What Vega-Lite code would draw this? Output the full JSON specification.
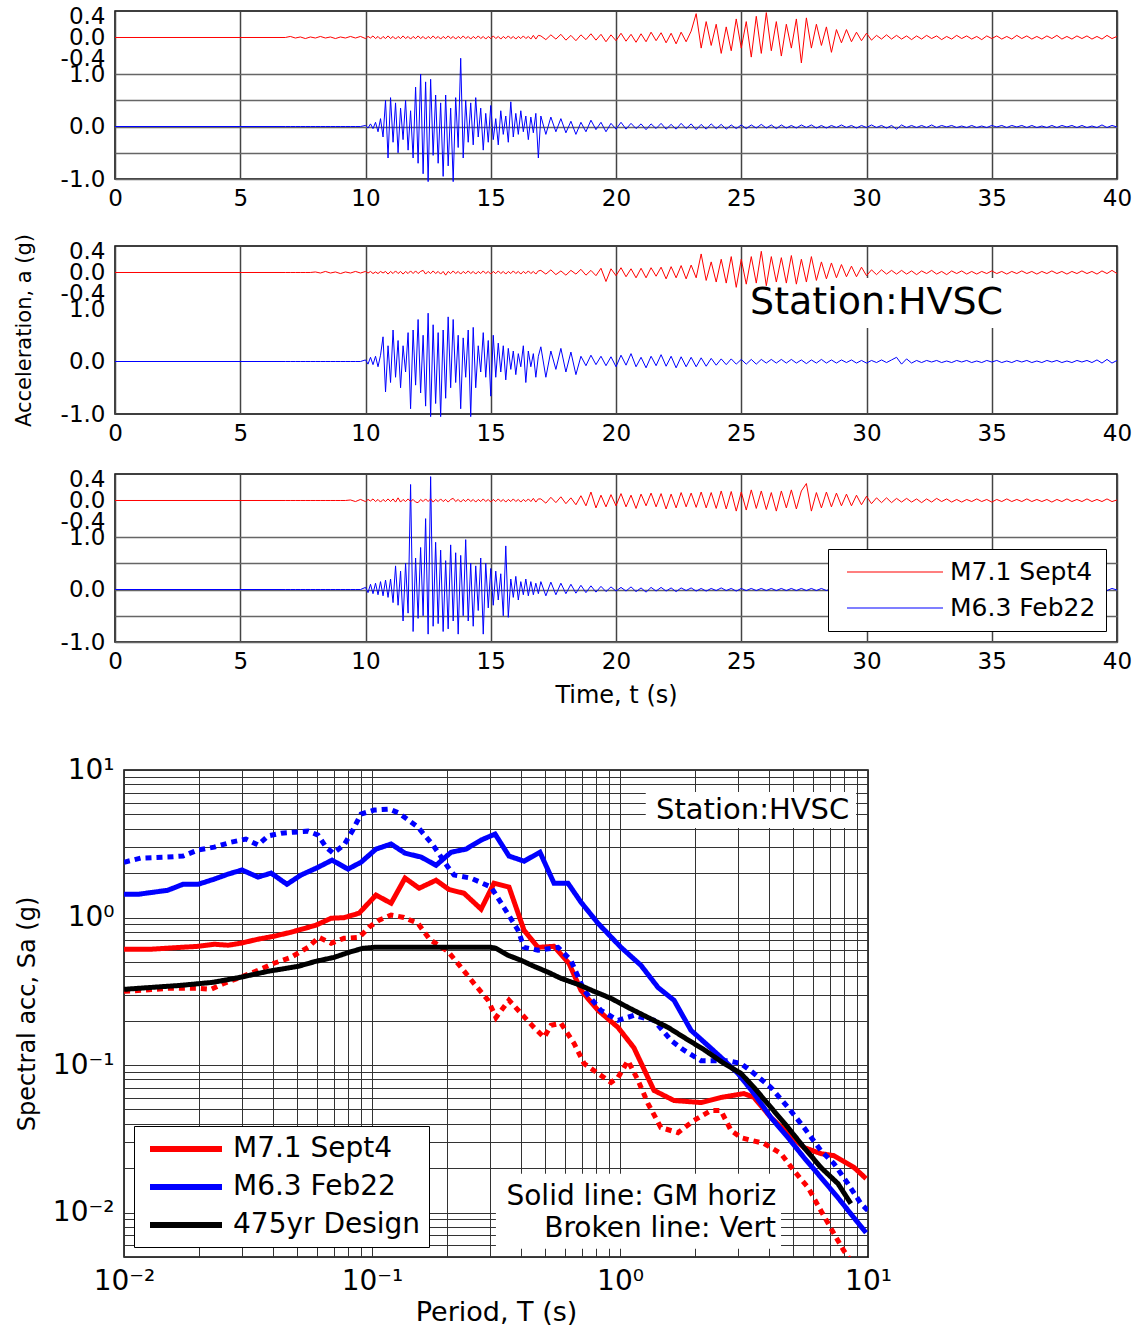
{
"$schema": "https://vega.github.io/schema/vega-lite/v6.json",
"background": "white",
"padding": {"left": 12, "top": 4, "right": 5, "bottom": 5},
"config": {
  "font": "DejaVu Sans",
  "view": {"stroke": "#000", "strokeWidth": 1.5},
  "axis": {"labelColor": "#000", "titleColor": "#000", "titleFontWeight": "normal", "ticks": false, "domain": false, "gridColor": "#333", "gridOpacity": 1, "gridWidth": 1, "labelOverlap": false, "labelBound": false, "labelFlush": false}
},
"spacing": 21,
"resolve": {"scale": {"color": "independent", "strokeDash": "independent"}, "legend": {"color": "independent"}},
"datasets": {
"acc": [
{"t":0,"r1":0,"b1":0,"r2":0,"b2":0,"r3":0,"b3":0},
{"t":6.8,"r1":0,"b1":0,"r2":0,"b2":0,"r3":0,"b3":0},
{"t":7.0,"r1":0.02,"b1":0,"r2":0,"b2":0,"r3":0,"b3":0},
{"t":7.2,"r1":-0.01,"b1":0,"r2":0,"b2":0,"r3":0,"b3":0},
{"t":7.4,"r1":0.01,"b1":0,"r2":0,"b2":0,"r3":0,"b3":0},
{"t":7.6,"r1":-0.02,"b1":0,"r2":0,"b2":0,"r3":0,"b3":0},
{"t":7.8,"r1":0.01,"b1":0,"r2":0,"b2":0,"r3":0,"b3":0},
{"t":8.0,"r1":-0.01,"b1":0,"r2":0.01,"b2":0,"r3":0,"b3":0},
{"t":8.2,"r1":0.02,"b1":0,"r2":-0.01,"b2":0,"r3":0,"b3":0},
{"t":8.4,"r1":-0.01,"b1":0,"r2":0.02,"b2":0,"r3":0,"b3":0},
{"t":8.6,"r1":0.01,"b1":0,"r2":-0.01,"b2":0,"r3":0,"b3":0},
{"t":8.8,"r1":-0.02,"b1":0,"r2":0.01,"b2":0,"r3":0,"b3":0},
{"t":9.0,"r1":0.01,"b1":0,"r2":-0.02,"b2":0,"r3":0,"b3":0},
{"t":9.2,"r1":-0.01,"b1":0,"r2":0.01,"b2":0,"r3":0,"b3":0},
{"t":9.4,"r1":0.02,"b1":0,"r2":-0.01,"b2":0,"r3":0.01,"b3":0},
{"t":9.6,"r1":-0.01,"b1":0,"r2":0.02,"b2":0,"r3":-0.02,"b3":0},
{"t":9.8,"r1":0.02,"b1":0,"r2":-0.01,"b2":0,"r3":0.02,"b3":0},
{"t":10.0,"r1":-0.02,"b1":0.02,"r2":0.02,"b2":0.03,"r3":-0.02,"b3":0.04},
{"t":10.1,"r1":0.02,"b1":-0.03,"r2":-0.01,"b2":-0.05,"r3":0.02,"b3":-0.06},
{"t":10.2,"r1":-0.01,"b1":0.05,"r2":0.02,"b2":0.08,"r3":-0.01,"b3":0.1},
{"t":10.3,"r1":0.03,"b1":-0.04,"r2":-0.02,"b2":-0.06,"r3":0.03,"b3":-0.08},
{"t":10.4,"r1":-0.02,"b1":0.08,"r2":0.01,"b2":0.1,"r3":-0.02,"b3":0.12},
{"t":10.5,"r1":0.02,"b1":-0.1,"r2":-0.02,"b2":-0.1,"r3":0.02,"b3":-0.1},
{"t":10.6,"r1":-0.03,"b1":0.15,"r2":0.02,"b2":0.12,"r3":-0.03,"b3":0.15},
{"t":10.7,"r1":0.02,"b1":-0.2,"r2":-0.01,"b2":0.47,"r3":0.02,"b3":-0.12},
{"t":10.8,"r1":-0.02,"b1":0.5,"r2":0.02,"b2":-0.58,"r3":-0.02,"b3":0.18},
{"t":10.9,"r1":0.03,"b1":-0.6,"r2":-0.03,"b2":0.3,"r3":0.03,"b3":-0.15},
{"t":11.0,"r1":-0.02,"b1":0.55,"r2":0.02,"b2":-0.4,"r3":-0.02,"b3":0.2},
{"t":11.1,"r1":0.02,"b1":-0.3,"r2":-0.02,"b2":0.6,"r3":0.03,"b3":-0.25},
{"t":11.2,"r1":-0.03,"b1":0.45,"r2":0.03,"b2":-0.3,"r3":-0.03,"b3":0.45},
{"t":11.3,"r1":0.02,"b1":-0.5,"r2":-0.02,"b2":0.4,"r3":0.05,"b3":-0.3},
{"t":11.4,"r1":-0.02,"b1":0.35,"r2":0.02,"b2":-0.5,"r3":-0.03,"b3":0.35},
{"t":11.5,"r1":0.03,"b1":-0.25,"r2":-0.03,"b2":0.3,"r3":0.02,"b3":-0.6},
{"t":11.6,"r1":-0.02,"b1":0.5,"r2":0.02,"b2":-0.2,"r3":-0.02,"b3":0.5},
{"t":11.7,"r1":0.02,"b1":-0.45,"r2":-0.02,"b2":0.55,"r3":0.03,"b3":-0.45},
{"t":11.8,"r1":-0.03,"b1":0.3,"r2":0.03,"b2":-0.9,"r3":-0.02,"b3":2.0},
{"t":11.9,"r1":0.02,"b1":-0.6,"r2":-0.02,"b2":0.6,"r3":0.02,"b3":-0.8},
{"t":12.0,"r1":-0.02,"b1":0.75,"r2":0.03,"b2":-0.45,"r3":-0.03,"b3":0.6},
{"t":12.1,"r1":0.03,"b1":-0.7,"r2":-0.02,"b2":0.8,"r3":-0.04,"b3":-0.55},
{"t":12.2,"r1":-0.02,"b1":1.0,"r2":0.02,"b2":-0.6,"r3":0.02,"b3":0.8},
{"t":12.3,"r1":0.02,"b1":-0.9,"r2":0.04,"b2":0.5,"r3":-0.02,"b3":-0.5},
{"t":12.4,"r1":-0.03,"b1":0.85,"r2":-0.03,"b2":-0.85,"r3":0.03,"b3":1.35},
{"t":12.5,"r1":0.02,"b1":-1.05,"r2":0.02,"b2":0.92,"r3":-0.02,"b3":-0.85},
{"t":12.6,"r1":-0.02,"b1":0.9,"r2":-0.02,"b2":-1.05,"r3":0.03,"b3":2.15},
{"t":12.7,"r1":0.03,"b1":-0.55,"r2":0.03,"b2":0.7,"r3":-0.03,"b3":-0.7},
{"t":12.8,"r1":-0.02,"b1":0.6,"r2":-0.02,"b2":-0.8,"r3":0.02,"b3":0.9},
{"t":12.9,"r1":0.02,"b1":-0.7,"r2":0.02,"b2":0.55,"r3":-0.02,"b3":-0.65},
{"t":13.0,"r1":-0.03,"b1":0.45,"r2":-0.03,"b2":-1.05,"r3":0.03,"b3":0.75},
{"t":13.1,"r1":0.02,"b1":-0.95,"r2":0.02,"b2":0.6,"r3":-0.02,"b3":-0.8},
{"t":13.2,"r1":-0.02,"b1":0.6,"r2":-0.05,"b2":-0.7,"r3":0.02,"b3":0.55},
{"t":13.3,"r1":0.03,"b1":-0.75,"r2":0.02,"b2":0.85,"r3":-0.03,"b3":-0.75},
{"t":13.4,"r1":-0.02,"b1":0.35,"r2":-0.02,"b2":-0.5,"r3":0.02,"b3":0.85},
{"t":13.5,"r1":0.02,"b1":-1.05,"r2":0.03,"b2":0.8,"r3":0.04,"b3":-0.6},
{"t":13.6,"r1":-0.03,"b1":0.55,"r2":-0.02,"b2":-0.4,"r3":-0.02,"b3":0.7},
{"t":13.7,"r1":0.02,"b1":-0.4,"r2":0.02,"b2":0.5,"r3":0.02,"b3":-0.85},
{"t":13.8,"r1":-0.02,"b1":1.3,"r2":-0.03,"b2":-0.9,"r3":-0.03,"b3":0.65},
{"t":13.9,"r1":0.03,"b1":-0.6,"r2":0.02,"b2":0.45,"r3":0.02,"b3":-0.5},
{"t":14.0,"r1":-0.02,"b1":0.5,"r2":-0.02,"b2":-0.3,"r3":-0.02,"b3":0.95},
{"t":14.1,"r1":0.02,"b1":-0.3,"r2":0.03,"b2":0.6,"r3":0.03,"b3":-0.6},
{"t":14.2,"r1":-0.03,"b1":0.45,"r2":-0.02,"b2":-1.05,"r3":-0.02,"b3":0.5},
{"t":14.3,"r1":0.02,"b1":-0.35,"r2":0.02,"b2":0.65,"r3":0.02,"b3":-0.7},
{"t":14.4,"r1":-0.02,"b1":0.55,"r2":-0.03,"b2":-0.5,"r3":-0.03,"b3":0.45},
{"t":14.5,"r1":0.03,"b1":-0.2,"r2":0.02,"b2":0.3,"r3":0.02,"b3":-0.4},
{"t":14.6,"r1":-0.02,"b1":0.35,"r2":-0.02,"b2":-0.2,"r3":-0.02,"b3":0.6},
{"t":14.7,"r1":0.02,"b1":-0.45,"r2":0.03,"b2":0.55,"r3":0.03,"b3":-0.85},
{"t":14.8,"r1":-0.03,"b1":0.25,"r2":-0.02,"b2":-0.3,"r3":-0.02,"b3":0.5},
{"t":14.9,"r1":0.02,"b1":-0.3,"r2":0.02,"b2":0.4,"r3":0.02,"b3":-0.35},
{"t":15.0,"r1":-0.02,"b1":0.4,"r2":-0.03,"b2":-0.66,"r3":-0.03,"b3":0.4},
{"t":15.1,"r1":0.03,"b1":-0.25,"r2":0.02,"b2":0.5,"r3":0.02,"b3":-0.3},
{"t":15.2,"r1":-0.02,"b1":0.15,"r2":-0.02,"b2":-0.3,"r3":-0.02,"b3":0.35},
{"t":15.3,"r1":0.02,"b1":-0.35,"r2":0.03,"b2":0.35,"r3":0.03,"b3":-0.2},
{"t":15.4,"r1":-0.03,"b1":0.3,"r2":-0.02,"b2":-0.2,"r3":-0.02,"b3":0.3},
{"t":15.5,"r1":0.02,"b1":-0.15,"r2":0.02,"b2":0.3,"r3":0.02,"b3":-0.5},
{"t":15.6,"r1":-0.02,"b1":0.2,"r2":-0.03,"b2":-0.35,"r3":-0.03,"b3":0.83},
{"t":15.7,"r1":0.03,"b1":-0.3,"r2":0.02,"b2":0.25,"r3":0.02,"b3":-0.53},
{"t":15.8,"r1":-0.02,"b1":0.47,"r2":-0.02,"b2":-0.15,"r3":-0.02,"b3":0.2},
{"t":15.9,"r1":0.02,"b1":-0.2,"r2":0.03,"b2":0.2,"r3":0.03,"b3":-0.15},
{"t":16.0,"r1":-0.03,"b1":0.25,"r2":-0.02,"b2":-0.25,"r3":-0.02,"b3":0.25},
{"t":16.1,"r1":0.02,"b1":-0.15,"r2":0.02,"b2":0.15,"r3":0.02,"b3":-0.2},
{"t":16.2,"r1":-0.02,"b1":0.3,"r2":-0.03,"b2":-0.1,"r3":-0.03,"b3":0.15},
{"t":16.3,"r1":0.03,"b1":-0.1,"r2":0.02,"b2":0.3,"r3":0.02,"b3":-0.1},
{"t":16.4,"r1":-0.02,"b1":0.2,"r2":-0.02,"b2":-0.4,"r3":-0.02,"b3":0.2},
{"t":16.5,"r1":0.02,"b1":-0.25,"r2":0.03,"b2":0.2,"r3":0.03,"b3":-0.12},
{"t":16.6,"r1":-0.03,"b1":0.18,"r2":-0.02,"b2":-0.1,"r3":-0.02,"b3":0.15},
{"t":16.7,"r1":0.04,"b1":-0.12,"r2":0.02,"b2":0.15,"r3":0.04,"b3":-0.1},
{"t":16.8,"r1":-0.03,"b1":0.25,"r2":-0.03,"b2":-0.3,"r3":-0.03,"b3":0.12},
{"t":16.9,"r1":0.04,"b1":-0.6,"r2":0.03,"b2":0.1,"r3":0.03,"b3":-0.08},
{"t":17.0,"r1":0.03,"b1":0.2,"r2":0.04,"b2":0.28,"r3":0.03,"b3":0.15},
{"t":17.2,"r1":-0.04,"b1":-0.15,"r2":-0.03,"b2":-0.3,"r3":-0.05,"b3":-0.12},
{"t":17.4,"r1":0.05,"b1":0.18,"r2":0.05,"b2":0.2,"r3":0.06,"b3":0.14},
{"t":17.6,"r1":-0.03,"b1":-0.1,"r2":-0.04,"b2":-0.15,"r3":-0.04,"b3":-0.1},
{"t":17.8,"r1":0.06,"b1":0.15,"r2":0.03,"b2":0.25,"r3":0.07,"b3":0.12},
{"t":18.0,"r1":-0.05,"b1":-0.12,"r2":-0.05,"b2":-0.2,"r3":-0.06,"b3":-0.08},
{"t":18.2,"r1":0.04,"b1":0.1,"r2":0.04,"b2":0.18,"r3":0.05,"b3":0.1},
{"t":18.4,"r1":-0.06,"b1":-0.15,"r2":-0.03,"b2":-0.25,"r3":-0.08,"b3":-0.07},
{"t":18.6,"r1":0.05,"b1":0.08,"r2":0.06,"b2":0.1,"r3":0.09,"b3":0.08},
{"t":18.8,"r1":-0.04,"b1":-0.1,"r2":-0.05,"b2":-0.08,"r3":-0.1,"b3":-0.06},
{"t":19.0,"r1":0.07,"b1":0.12,"r2":0.04,"b2":0.12,"r3":0.16,"b3":0.07},
{"t":19.2,"r1":-0.05,"b1":-0.06,"r2":-0.06,"b2":-0.06,"r3":-0.14,"b3":-0.05},
{"t":19.4,"r1":0.06,"b1":0.08,"r2":0.08,"b2":0.1,"r3":0.1,"b3":0.06},
{"t":19.6,"r1":-0.08,"b1":-0.1,"r2":-0.17,"b2":-0.08,"r3":-0.12,"b3":-0.04},
{"t":19.8,"r1":0.05,"b1":0.06,"r2":0.07,"b2":0.09,"r3":0.11,"b3":0.05},
{"t":20.0,"r1":-0.06,"b1":-0.05,"r2":-0.06,"b2":-0.1,"r3":-0.1,"b3":-0.03},
{"t":20.2,"r1":0.08,"b1":0.08,"r2":0.09,"b2":0.12,"r3":0.13,"b3":0.04},
{"t":20.4,"r1":-0.07,"b1":-0.05,"r2":-0.08,"b2":-0.07,"r3":-0.12,"b3":-0.03},
{"t":20.6,"r1":0.06,"b1":0.06,"r2":0.07,"b2":0.15,"r3":0.1,"b3":0.05},
{"t":20.8,"r1":-0.09,"b1":-0.04,"r2":-0.1,"b2":-0.1,"r3":-0.15,"b3":-0.04},
{"t":21.0,"r1":0.07,"b1":0.05,"r2":0.08,"b2":0.08,"r3":0.12,"b3":0.03},
{"t":21.2,"r1":-0.08,"b1":-0.06,"r2":-0.1,"b2":-0.12,"r3":-0.1,"b3":-0.05},
{"t":21.4,"r1":0.1,"b1":0.05,"r2":0.09,"b2":0.1,"r3":0.14,"b3":0.04},
{"t":21.6,"r1":-0.06,"b1":-0.04,"r2":-0.07,"b2":-0.08,"r3":-0.12,"b3":-0.03},
{"t":21.8,"r1":0.09,"b1":0.06,"r2":0.1,"b2":0.13,"r3":0.13,"b3":0.04},
{"t":22.0,"r1":-0.1,"b1":-0.05,"r2":-0.12,"b2":-0.09,"r3":-0.16,"b3":-0.03},
{"t":22.2,"r1":0.08,"b1":0.04,"r2":0.11,"b2":0.1,"r3":0.12,"b3":0.03},
{"t":22.4,"r1":-0.12,"b1":-0.05,"r2":-0.1,"b2":-0.12,"r3":-0.14,"b3":-0.04},
{"t":22.6,"r1":0.1,"b1":0.06,"r2":0.13,"b2":0.09,"r3":0.15,"b3":0.03},
{"t":22.8,"r1":-0.08,"b1":-0.04,"r2":-0.12,"b2":-0.1,"r3":-0.12,"b3":-0.02},
{"t":23.0,"r1":0.12,"b1":0.05,"r2":0.14,"b2":0.08,"r3":0.14,"b3":0.03},
{"t":23.2,"r1":0.45,"b1":-0.06,"r2":-0.1,"b2":-0.1,"r3":-0.13,"b3":-0.03},
{"t":23.4,"r1":-0.2,"b1":0.04,"r2":0.35,"b2":0.07,"r3":0.16,"b3":0.02},
{"t":23.6,"r1":0.3,"b1":-0.05,"r2":-0.15,"b2":-0.09,"r3":-0.14,"b3":-0.03},
{"t":23.8,"r1":-0.15,"b1":0.05,"r2":0.2,"b2":0.06,"r3":0.15,"b3":0.02},
{"t":24.0,"r1":0.25,"b1":-0.04,"r2":-0.18,"b2":-0.07,"r3":-0.15,"b3":-0.02},
{"t":24.2,"r1":-0.3,"b1":0.04,"r2":0.25,"b2":0.05,"r3":0.18,"b3":0.03},
{"t":24.4,"r1":0.2,"b1":-0.05,"r2":-0.2,"b2":-0.06,"r3":-0.16,"b3":-0.02},
{"t":24.6,"r1":-0.25,"b1":0.03,"r2":0.3,"b2":0.05,"r3":0.17,"b3":0.02},
{"t":24.8,"r1":0.35,"b1":-0.04,"r2":-0.28,"b2":-0.05,"r3":-0.2,"b3":-0.03},
{"t":25.0,"r1":-0.2,"b1":0.03,"r2":0.25,"b2":0.04,"r3":0.16,"b3":0.02},
{"t":25.2,"r1":0.3,"b1":-0.04,"r2":-0.22,"b2":-0.05,"r3":-0.18,"b3":-0.02},
{"t":25.4,"r1":-0.37,"b1":0.03,"r2":0.3,"b2":0.04,"r3":0.2,"b3":0.02},
{"t":25.6,"r1":0.4,"b1":-0.03,"r2":-0.2,"b2":-0.05,"r3":-0.15,"b3":-0.02},
{"t":25.8,"r1":-0.3,"b1":0.04,"r2":0.4,"b2":0.04,"r3":0.18,"b3":0.02},
{"t":26.0,"r1":0.47,"b1":-0.03,"r2":-0.25,"b2":-0.03,"r3":-0.17,"b3":-0.02},
{"t":26.2,"r1":-0.25,"b1":0.03,"r2":0.3,"b2":0.04,"r3":0.15,"b3":0.02},
{"t":26.4,"r1":0.3,"b1":-0.04,"r2":-0.18,"b2":-0.03,"r3":-0.2,"b3":-0.02},
{"t":26.6,"r1":-0.35,"b1":0.03,"r2":0.28,"b2":0.04,"r3":0.18,"b3":0.02},
{"t":26.8,"r1":0.25,"b1":-0.03,"r2":-0.2,"b2":-0.03,"r3":-0.14,"b3":-0.02},
{"t":27.0,"r1":-0.2,"b1":0.02,"r2":0.32,"b2":0.04,"r3":0.2,"b3":0.02},
{"t":27.2,"r1":0.35,"b1":-0.03,"r2":-0.22,"b2":-0.03,"r3":-0.16,"b3":-0.02},
{"t":27.4,"r1":-0.48,"b1":0.03,"r2":0.25,"b2":0.03,"r3":0.18,"b3":0.02},
{"t":27.6,"r1":0.37,"b1":-0.02,"r2":-0.18,"b2":-0.04,"r3":0.32,"b3":-0.02},
{"t":27.8,"r1":-0.2,"b1":0.03,"r2":0.3,"b2":0.03,"r3":-0.2,"b3":0.02},
{"t":28.0,"r1":0.25,"b1":-0.03,"r2":-0.15,"b2":-0.03,"r3":0.15,"b3":-0.02},
{"t":28.2,"r1":-0.15,"b1":0.02,"r2":0.2,"b2":0.04,"r3":-0.14,"b3":0.02},
{"t":28.4,"r1":0.2,"b1":-0.03,"r2":-0.12,"b2":-0.03,"r3":0.16,"b3":-0.02},
{"t":28.6,"r1":-0.28,"b1":0.02,"r2":0.18,"b2":0.03,"r3":-0.12,"b3":0.02},
{"t":28.8,"r1":0.15,"b1":-0.02,"r2":-0.1,"b2":-0.03,"r3":0.14,"b3":-0.02},
{"t":29.0,"r1":-0.1,"b1":0.03,"r2":0.15,"b2":0.03,"r3":-0.1,"b3":0.02},
{"t":29.2,"r1":0.15,"b1":-0.02,"r2":-0.08,"b2":-0.02,"r3":0.12,"b3":-0.02},
{"t":29.4,"r1":-0.08,"b1":0.02,"r2":0.12,"b2":0.03,"r3":-0.1,"b3":0.02},
{"t":29.6,"r1":0.1,"b1":-0.03,"r2":-0.08,"b2":-0.03,"r3":0.1,"b3":-0.02},
{"t":29.8,"r1":-0.06,"b1":0.02,"r2":0.1,"b2":0.02,"r3":-0.08,"b3":0.02},
{"t":30.0,"r1":0.08,"b1":-0.02,"r2":-0.06,"b2":-0.03,"r3":0.08,"b3":-0.02},
{"t":30.2,"r1":-0.05,"b1":0.03,"r2":0.05,"b2":0.02,"r3":-0.06,"b3":0.02},
{"t":30.4,"r1":0.04,"b1":-0.02,"r2":-0.04,"b2":-0.02,"r3":0.05,"b3":-0.02},
{"t":30.6,"r1":-0.03,"b1":0.02,"r2":0.05,"b2":0.03,"r3":-0.04,"b3":0.02},
{"t":30.8,"r1":0.05,"b1":-0.03,"r2":-0.03,"b2":-0.02,"r3":0.05,"b3":-0.02},
{"t":31.0,"r1":-0.03,"b1":0.02,"r2":0.04,"b2":0.03,"r3":-0.04,"b3":0.02},
{"t":31.2,"r1":0.04,"b1":-0.05,"r2":-0.03,"b2":0.08,"r3":0.04,"b3":-0.02},
{"t":31.4,"r1":-0.03,"b1":0.03,"r2":0.04,"b2":-0.05,"r3":-0.03,"b3":0.02},
{"t":31.6,"r1":0.03,"b1":-0.02,"r2":-0.03,"b2":0.05,"r3":0.04,"b3":-0.02},
{"t":31.8,"r1":-0.04,"b1":0.02,"r2":0.03,"b2":-0.03,"r3":-0.03,"b3":0.02},
{"t":32.0,"r1":0.03,"b1":-0.02,"r2":-0.04,"b2":0.02,"r3":0.03,"b3":-0.02},
{"t":32.2,"r1":-0.03,"b1":0.02,"r2":0.03,"b2":-0.02,"r3":-0.04,"b3":0.02},
{"t":32.4,"r1":0.04,"b1":-0.02,"r2":-0.02,"b2":0.02,"r3":0.03,"b3":-0.02},
{"t":32.6,"r1":-0.02,"b1":0.03,"r2":0.04,"b2":-0.01,"r3":-0.03,"b3":0.01},
{"t":32.8,"r1":0.03,"b1":-0.02,"r2":-0.03,"b2":0.02,"r3":0.04,"b3":-0.02},
{"t":33.0,"r1":-0.04,"b1":0.02,"r2":0.02,"b2":-0.02,"r3":-0.02,"b3":0.02},
{"t":33.2,"r1":0.02,"b1":-0.01,"r2":-0.04,"b2":0.01,"r3":0.03,"b3":-0.01},
{"t":33.4,"r1":-0.03,"b1":0.02,"r2":0.03,"b2":-0.02,"r3":-0.03,"b3":0.02},
{"t":33.6,"r1":0.04,"b1":-0.02,"r2":-0.02,"b2":0.02,"r3":0.02,"b3":-0.02},
{"t":33.8,"r1":-0.02,"b1":0.01,"r2":0.03,"b2":-0.01,"r3":-0.03,"b3":0.01},
{"t":34.0,"r1":0.03,"b1":-0.02,"r2":-0.03,"b2":0.02,"r3":0.02,"b3":-0.02},
{"t":34.2,"r1":-0.03,"b1":0.02,"r2":0.02,"b2":-0.02,"r3":-0.02,"b3":0.02},
{"t":34.4,"r1":0.02,"b1":-0.02,"r2":-0.03,"b2":0.01,"r3":0.03,"b3":-0.01},
{"t":34.6,"r1":-0.04,"b1":0.01,"r2":0.02,"b2":-0.02,"r3":-0.02,"b3":0.02},
{"t":34.8,"r1":0.03,"b1":-0.02,"r2":-0.02,"b2":0.02,"r3":0.02,"b3":-0.02},
{"t":35.0,"r1":-0.02,"b1":0.02,"r2":0.03,"b2":-0.01,"r3":-0.03,"b3":0.01},
{"t":35.2,"r1":0.03,"b1":-0.01,"r2":-0.02,"b2":0.02,"r3":0.02,"b3":-0.02},
{"t":35.4,"r1":-0.03,"b1":0.02,"r2":0.02,"b2":-0.02,"r3":-0.02,"b3":0.02},
{"t":35.6,"r1":0.02,"b1":-0.02,"r2":-0.03,"b2":0.01,"r3":0.03,"b3":-0.01},
{"t":35.8,"r1":-0.03,"b1":0.02,"r2":0.02,"b2":-0.02,"r3":-0.02,"b3":0.02},
{"t":36.0,"r1":0.04,"b1":-0.01,"r2":-0.02,"b2":0.02,"r3":0.02,"b3":-0.02},
{"t":36.2,"r1":-0.02,"b1":0.02,"r2":0.03,"b2":-0.01,"r3":-0.02,"b3":0.01},
{"t":36.4,"r1":0.03,"b1":-0.02,"r2":-0.02,"b2":0.02,"r3":0.03,"b3":-0.02},
{"t":36.6,"r1":-0.03,"b1":0.02,"r2":0.02,"b2":-0.02,"r3":-0.02,"b3":0.02},
{"t":36.8,"r1":0.02,"b1":-0.02,"r2":-0.03,"b2":0.01,"r3":0.02,"b3":-0.01},
{"t":37.0,"r1":-0.03,"b1":0.01,"r2":0.02,"b2":-0.02,"r3":-0.02,"b3":0.02},
{"t":37.2,"r1":0.03,"b1":-0.02,"r2":-0.02,"b2":0.02,"r3":0.02,"b3":-0.02},
{"t":37.4,"r1":-0.02,"b1":0.02,"r2":0.03,"b2":-0.01,"r3":-0.03,"b3":0.01},
{"t":37.6,"r1":0.04,"b1":-0.02,"r2":-0.02,"b2":0.02,"r3":0.02,"b3":-0.02},
{"t":37.8,"r1":-0.03,"b1":0.02,"r2":0.02,"b2":-0.02,"r3":-0.02,"b3":0.02},
{"t":38.0,"r1":0.02,"b1":-0.01,"r2":-0.03,"b2":0.01,"r3":0.03,"b3":-0.01},
{"t":38.2,"r1":-0.03,"b1":0.02,"r2":0.02,"b2":-0.02,"r3":-0.02,"b3":0.02},
{"t":38.4,"r1":0.03,"b1":-0.02,"r2":-0.02,"b2":0.02,"r3":0.02,"b3":-0.02},
{"t":38.6,"r1":-0.02,"b1":0.02,"r2":0.03,"b2":-0.01,"r3":-0.02,"b3":0.01},
{"t":38.8,"r1":0.03,"b1":-0.02,"r2":-0.02,"b2":0.02,"r3":0.03,"b3":-0.02},
{"t":39.0,"r1":-0.03,"b1":0.01,"r2":0.02,"b2":-0.02,"r3":-0.02,"b3":0.02},
{"t":39.2,"r1":0.02,"b1":-0.02,"r2":-0.03,"b2":0.03,"r3":0.02,"b3":-0.02},
{"t":39.4,"r1":-0.03,"b1":0.03,"r2":0.03,"b2":-0.03,"r3":-0.02,"b3":0.03},
{"t":39.6,"r1":0.04,"b1":-0.02,"r2":-0.02,"b2":0.04,"r3":0.03,"b3":-0.02},
{"t":39.8,"r1":-0.02,"b1":0.02,"r2":0.04,"b2":-0.03,"r3":-0.02,"b3":0.02},
{"t":40.0,"r1":0.02,"b1":-0.01,"r2":-0.02,"b2":0.02,"r3":0.01,"b3":-0.01}
],
"sa": [
{"T":0.01,"Sa":0.61,"ev":"M7.1 Sept4","k":"solid"},
{"T":0.0129,"Sa":0.61,"ev":"M7.1 Sept4","k":"solid"},
{"T":0.017,"Sa":0.628,"ev":"M7.1 Sept4","k":"solid"},
{"T":0.0199,"Sa":0.638,"ev":"M7.1 Sept4","k":"solid"},
{"T":0.0231,"Sa":0.659,"ev":"M7.1 Sept4","k":"solid"},
{"T":0.0263,"Sa":0.649,"ev":"M7.1 Sept4","k":"solid"},
{"T":0.0296,"Sa":0.67,"ev":"M7.1 Sept4","k":"solid"},
{"T":0.0347,"Sa":0.713,"ev":"M7.1 Sept4","k":"solid"},
{"T":0.0403,"Sa":0.747,"ev":"M7.1 Sept4","k":"solid"},
{"T":0.0471,"Sa":0.795,"ev":"M7.1 Sept4","k":"solid"},
{"T":0.0594,"Sa":0.887,"ev":"M7.1 Sept4","k":"solid"},
{"T":0.0684,"Sa":0.989,"ev":"M7.1 Sept4","k":"solid"},
{"T":0.0771,"Sa":0.998,"ev":"M7.1 Sept4","k":"solid"},
{"T":0.0887,"Sa":1.07,"ev":"M7.1 Sept4","k":"solid"},
{"T":0.1038,"Sa":1.42,"ev":"M7.1 Sept4","k":"solid"},
{"T":0.1194,"Sa":1.25,"ev":"M7.1 Sept4","k":"solid"},
{"T":0.1359,"Sa":1.85,"ev":"M7.1 Sept4","k":"solid"},
{"T":0.1549,"Sa":1.58,"ev":"M7.1 Sept4","k":"solid"},
{"T":0.1813,"Sa":1.79,"ev":"M7.1 Sept4","k":"solid"},
{"T":0.2042,"Sa":1.55,"ev":"M7.1 Sept4","k":"solid"},
{"T":0.235,"Sa":1.46,"ev":"M7.1 Sept4","k":"solid"},
{"T":0.2754,"Sa":1.14,"ev":"M7.1 Sept4","k":"solid"},
{"T":0.3105,"Sa":1.71,"ev":"M7.1 Sept4","k":"solid"},
{"T":0.3568,"Sa":1.61,"ev":"M7.1 Sept4","k":"solid"},
{"T":0.4102,"Sa":0.82,"ev":"M7.1 Sept4","k":"solid"},
{"T":0.4667,"Sa":0.628,"ev":"M7.1 Sept4","k":"solid"},
{"T":0.5417,"Sa":0.638,"ev":"M7.1 Sept4","k":"solid"},
{"T":0.6223,"Sa":0.49,"ev":"M7.1 Sept4","k":"solid"},
{"T":0.6962,"Sa":0.321,"ev":"M7.1 Sept4","k":"solid"},
{"T":0.8154,"Sa":0.235,"ev":"M7.1 Sept4","k":"solid"},
{"T":0.9817,"Sa":0.18,"ev":"M7.1 Sept4","k":"solid"},
{"T":1.138,"Sa":0.131,"ev":"M7.1 Sept4","k":"solid"},
{"T":1.371,"Sa":0.0673,"ev":"M7.1 Sept4","k":"solid"},
{"T":1.651,"Sa":0.0575,"ev":"M7.1 Sept4","k":"solid"},
{"T":2.122,"Sa":0.0557,"ev":"M7.1 Sept4","k":"solid"},
{"T":2.55,"Sa":0.0603,"ev":"M7.1 Sept4","k":"solid"},
{"T":3.16,"Sa":0.0641,"ev":"M7.1 Sept4","k":"solid"},
{"T":3.47,"Sa":0.0603,"ev":"M7.1 Sept4","k":"solid"},
{"T":4.06,"Sa":0.0441,"ev":"M7.1 Sept4","k":"solid"},
{"T":4.76,"Sa":0.0344,"ev":"M7.1 Sept4","k":"solid"},
{"T":5.52,"Sa":0.0276,"ev":"M7.1 Sept4","k":"solid"},
{"T":6.46,"Sa":0.0251,"ev":"M7.1 Sept4","k":"solid"},
{"T":7.29,"Sa":0.0243,"ev":"M7.1 Sept4","k":"solid"},
{"T":8.79,"Sa":0.0202,"ev":"M7.1 Sept4","k":"solid"},
{"T":9.82,"Sa":0.017,"ev":"M7.1 Sept4","k":"solid"},
{"T":0.01,"Sa":0.316,"ev":"M7.1 Sept4","k":"broken"},
{"T":0.0117,"Sa":0.321,"ev":"M7.1 Sept4","k":"broken"},
{"T":0.015,"Sa":0.331,"ev":"M7.1 Sept4","k":"broken"},
{"T":0.0173,"Sa":0.331,"ev":"M7.1 Sept4","k":"broken"},
{"T":0.0199,"Sa":0.331,"ev":"M7.1 Sept4","k":"broken"},
{"T":0.0224,"Sa":0.326,"ev":"M7.1 Sept4","k":"broken"},
{"T":0.0253,"Sa":0.358,"ev":"M7.1 Sept4","k":"broken"},
{"T":0.0296,"Sa":0.394,"ev":"M7.1 Sept4","k":"broken"},
{"T":0.0347,"Sa":0.439,"ev":"M7.1 Sept4","k":"broken"},
{"T":0.0403,"Sa":0.49,"ev":"M7.1 Sept4","k":"broken"},
{"T":0.0471,"Sa":0.537,"ev":"M7.1 Sept4","k":"broken"},
{"T":0.0552,"Sa":0.628,"ev":"M7.1 Sept4","k":"broken"},
{"T":0.0611,"Sa":0.734,"ev":"M7.1 Sept4","k":"broken"},
{"T":0.0684,"Sa":0.67,"ev":"M7.1 Sept4","k":"broken"},
{"T":0.0771,"Sa":0.723,"ev":"M7.1 Sept4","k":"broken"},
{"T":0.0887,"Sa":0.734,"ev":"M7.1 Sept4","k":"broken"},
{"T":0.0973,"Sa":0.859,"ev":"M7.1 Sept4","k":"broken"},
{"T":0.1067,"Sa":0.959,"ev":"M7.1 Sept4","k":"broken"},
{"T":0.1194,"Sa":1.04,"ev":"M7.1 Sept4","k":"broken"},
{"T":0.1346,"Sa":1.0,"ev":"M7.1 Sept4","k":"broken"},
{"T":0.1531,"Sa":0.914,"ev":"M7.1 Sept4","k":"broken"},
{"T":0.171,"Sa":0.71,"ev":"M7.1 Sept4","k":"broken"},
{"T":0.2023,"Sa":0.59,"ev":"M7.1 Sept4","k":"broken"},
{"T":0.2286,"Sa":0.46,"ev":"M7.1 Sept4","k":"broken"},
{"T":0.2576,"Sa":0.358,"ev":"M7.1 Sept4","k":"broken"},
{"T":0.2938,"Sa":0.275,"ev":"M7.1 Sept4","k":"broken"},
{"T":0.3162,"Sa":0.21,"ev":"M7.1 Sept4","k":"broken"},
{"T":0.3568,"Sa":0.275,"ev":"M7.1 Sept4","k":"broken"},
{"T":0.399,"Sa":0.224,"ev":"M7.1 Sept4","k":"broken"},
{"T":0.4498,"Sa":0.18,"ev":"M7.1 Sept4","k":"broken"},
{"T":0.4943,"Sa":0.154,"ev":"M7.1 Sept4","k":"broken"},
{"T":0.5272,"Sa":0.186,"ev":"M7.1 Sept4","k":"broken"},
{"T":0.578,"Sa":0.192,"ev":"M7.1 Sept4","k":"broken"},
{"T":0.653,"Sa":0.14,"ev":"M7.1 Sept4","k":"broken"},
{"T":0.7161,"Sa":0.1025,"ev":"M7.1 Sept4","k":"broken"},
{"T":0.8154,"Sa":0.0877,"ev":"M7.1 Sept4","k":"broken"},
{"T":0.9204,"Sa":0.0762,"ev":"M7.1 Sept4","k":"broken"},
{"T":0.9817,"Sa":0.0824,"ev":"M7.1 Sept4","k":"broken"},
{"T":1.077,"Sa":0.107,"ev":"M7.1 Sept4","k":"broken"},
{"T":1.183,"Sa":0.0786,"ev":"M7.1 Sept4","k":"broken"},
{"T":1.297,"Sa":0.0548,"ev":"M7.1 Sept4","k":"broken"},
{"T":1.462,"Sa":0.0377,"ev":"M7.1 Sept4","k":"broken"},
{"T":1.713,"Sa":0.0348,"ev":"M7.1 Sept4","k":"broken"},
{"T":1.987,"Sa":0.0421,"ev":"M7.1 Sept4","k":"broken"},
{"T":2.327,"Sa":0.0492,"ev":"M7.1 Sept4","k":"broken"},
{"T":2.55,"Sa":0.0492,"ev":"M7.1 Sept4","k":"broken"},
{"T":2.805,"Sa":0.036,"ev":"M7.1 Sept4","k":"broken"},
{"T":3.075,"Sa":0.0322,"ev":"M7.1 Sept4","k":"broken"},
{"T":3.81,"Sa":0.0294,"ev":"M7.1 Sept4","k":"broken"},
{"T":4.46,"Sa":0.0251,"ev":"M7.1 Sept4","k":"broken"},
{"T":5.03,"Sa":0.0192,"ev":"M7.1 Sept4","k":"broken"},
{"T":5.73,"Sa":0.0148,"ev":"M7.1 Sept4","k":"broken"},
{"T":6.46,"Sa":0.0103,"ev":"M7.1 Sept4","k":"broken"},
{"T":7.29,"Sa":0.0072,"ev":"M7.1 Sept4","k":"broken"},
{"T":8.0,"Sa":0.0055,"ev":"M7.1 Sept4","k":"broken"},
{"T":8.53,"Sa":0.0047,"ev":"M7.1 Sept4","k":"broken"},
{"T":0.01,"Sa":1.44,"ev":"M6.3 Feb22","k":"solid"},
{"T":0.0115,"Sa":1.44,"ev":"M6.3 Feb22","k":"solid"},
{"T":0.015,"Sa":1.53,"ev":"M6.3 Feb22","k":"solid"},
{"T":0.0173,"Sa":1.68,"ev":"M6.3 Feb22","k":"solid"},
{"T":0.0199,"Sa":1.68,"ev":"M6.3 Feb22","k":"solid"},
{"T":0.0231,"Sa":1.82,"ev":"M6.3 Feb22","k":"solid"},
{"T":0.0263,"Sa":1.97,"ev":"M6.3 Feb22","k":"solid"},
{"T":0.0299,"Sa":2.1,"ev":"M6.3 Feb22","k":"solid"},
{"T":0.0347,"Sa":1.88,"ev":"M6.3 Feb22","k":"solid"},
{"T":0.0392,"Sa":2.0,"ev":"M6.3 Feb22","k":"solid"},
{"T":0.0454,"Sa":1.68,"ev":"M6.3 Feb22","k":"solid"},
{"T":0.0517,"Sa":1.94,"ev":"M6.3 Feb22","k":"solid"},
{"T":0.0606,"Sa":2.19,"ev":"M6.3 Feb22","k":"solid"},
{"T":0.069,"Sa":2.45,"ev":"M6.3 Feb22","k":"solid"},
{"T":0.08,"Sa":2.13,"ev":"M6.3 Feb22","k":"solid"},
{"T":0.0903,"Sa":2.37,"ev":"M6.3 Feb22","k":"solid"},
{"T":0.1038,"Sa":2.91,"ev":"M6.3 Feb22","k":"solid"},
{"T":0.1194,"Sa":3.15,"ev":"M6.3 Feb22","k":"solid"},
{"T":0.1359,"Sa":2.73,"ev":"M6.3 Feb22","k":"solid"},
{"T":0.1577,"Sa":2.57,"ev":"M6.3 Feb22","k":"solid"},
{"T":0.1813,"Sa":2.26,"ev":"M6.3 Feb22","k":"solid"},
{"T":0.2084,"Sa":2.77,"ev":"M6.3 Feb22","k":"solid"},
{"T":0.2395,"Sa":2.91,"ev":"M6.3 Feb22","k":"solid"},
{"T":0.2754,"Sa":3.35,"ev":"M6.3 Feb22","k":"solid"},
{"T":0.3135,"Sa":3.68,"ev":"M6.3 Feb22","k":"solid"},
{"T":0.3568,"Sa":2.61,"ev":"M6.3 Feb22","k":"solid"},
{"T":0.4102,"Sa":2.41,"ev":"M6.3 Feb22","k":"solid"},
{"T":0.4757,"Sa":2.77,"ev":"M6.3 Feb22","k":"solid"},
{"T":0.5417,"Sa":1.71,"ev":"M6.3 Feb22","k":"solid"},
{"T":0.6166,"Sa":1.71,"ev":"M6.3 Feb22","k":"solid"},
{"T":0.6962,"Sa":1.27,"ev":"M6.3 Feb22","k":"solid"},
{"T":0.8154,"Sa":0.914,"ev":"M6.3 Feb22","k":"solid"},
{"T":1.009,"Sa":0.628,"ev":"M6.3 Feb22","k":"solid"},
{"T":1.215,"Sa":0.474,"ev":"M6.3 Feb22","k":"solid"},
{"T":1.423,"Sa":0.336,"ev":"M6.3 Feb22","k":"solid"},
{"T":1.651,"Sa":0.275,"ev":"M6.3 Feb22","k":"solid"},
{"T":1.933,"Sa":0.172,"ev":"M6.3 Feb22","k":"solid"},
{"T":2.327,"Sa":0.13,"ev":"M6.3 Feb22","k":"solid"},
{"T":2.55,"Sa":0.113,"ev":"M6.3 Feb22","k":"solid"},
{"T":2.99,"Sa":0.0877,"ev":"M6.3 Feb22","k":"solid"},
{"T":3.47,"Sa":0.0641,"ev":"M6.3 Feb22","k":"solid"},
{"T":4.06,"Sa":0.0441,"ev":"M6.3 Feb22","k":"solid"},
{"T":4.76,"Sa":0.0322,"ev":"M6.3 Feb22","k":"solid"},
{"T":5.52,"Sa":0.0236,"ev":"M6.3 Feb22","k":"solid"},
{"T":6.46,"Sa":0.0173,"ev":"M6.3 Feb22","k":"solid"},
{"T":7.57,"Sa":0.0126,"ev":"M6.3 Feb22","k":"solid"},
{"T":8.79,"Sa":0.0092,"ev":"M6.3 Feb22","k":"solid"},
{"T":9.82,"Sa":0.0073,"ev":"M6.3 Feb22","k":"solid"},
{"T":0.01,"Sa":2.37,"ev":"M6.3 Feb22","k":"broken"},
{"T":0.0117,"Sa":2.53,"ev":"M6.3 Feb22","k":"broken"},
{"T":0.015,"Sa":2.57,"ev":"M6.3 Feb22","k":"broken"},
{"T":0.0173,"Sa":2.61,"ev":"M6.3 Feb22","k":"broken"},
{"T":0.0199,"Sa":2.87,"ev":"M6.3 Feb22","k":"broken"},
{"T":0.0231,"Sa":3.0,"ev":"M6.3 Feb22","k":"broken"},
{"T":0.027,"Sa":3.24,"ev":"M6.3 Feb22","k":"broken"},
{"T":0.031,"Sa":3.4,"ev":"M6.3 Feb22","k":"broken"},
{"T":0.0347,"Sa":3.1,"ev":"M6.3 Feb22","k":"broken"},
{"T":0.0381,"Sa":3.57,"ev":"M6.3 Feb22","k":"broken"},
{"T":0.043,"Sa":3.73,"ev":"M6.3 Feb22","k":"broken"},
{"T":0.0484,"Sa":3.79,"ev":"M6.3 Feb22","k":"broken"},
{"T":0.0552,"Sa":3.85,"ev":"M6.3 Feb22","k":"broken"},
{"T":0.0606,"Sa":3.62,"ev":"M6.3 Feb22","k":"broken"},
{"T":0.0653,"Sa":3.0,"ev":"M6.3 Feb22","k":"broken"},
{"T":0.0697,"Sa":2.73,"ev":"M6.3 Feb22","k":"broken"},
{"T":0.0771,"Sa":3.1,"ev":"M6.3 Feb22","k":"broken"},
{"T":0.0837,"Sa":3.92,"ev":"M6.3 Feb22","k":"broken"},
{"T":0.0903,"Sa":5.03,"ev":"M6.3 Feb22","k":"broken"},
{"T":0.1019,"Sa":5.35,"ev":"M6.3 Feb22","k":"broken"},
{"T":0.1173,"Sa":5.43,"ev":"M6.3 Feb22","k":"broken"},
{"T":0.1286,"Sa":5.1,"ev":"M6.3 Feb22","k":"broken"},
{"T":0.1531,"Sa":4.1,"ev":"M6.3 Feb22","k":"broken"},
{"T":0.1762,"Sa":3.1,"ev":"M6.3 Feb22","k":"broken"},
{"T":0.2023,"Sa":2.2,"ev":"M6.3 Feb22","k":"broken"},
{"T":0.2143,"Sa":1.94,"ev":"M6.3 Feb22","k":"broken"},
{"T":0.2506,"Sa":1.85,"ev":"M6.3 Feb22","k":"broken"},
{"T":0.302,"Sa":1.61,"ev":"M6.3 Feb22","k":"broken"},
{"T":0.3404,"Sa":1.17,"ev":"M6.3 Feb22","k":"broken"},
{"T":0.3881,"Sa":0.82,"ev":"M6.3 Feb22","k":"broken"},
{"T":0.4102,"Sa":0.628,"ev":"M6.3 Feb22","k":"broken"},
{"T":0.4667,"Sa":0.6,"ev":"M6.3 Feb22","k":"broken"},
{"T":0.5623,"Sa":0.628,"ev":"M6.3 Feb22","k":"broken"},
{"T":0.6339,"Sa":0.513,"ev":"M6.3 Feb22","k":"broken"},
{"T":0.7161,"Sa":0.321,"ev":"M6.3 Feb22","k":"broken"},
{"T":0.8375,"Sa":0.235,"ev":"M6.3 Feb22","k":"broken"},
{"T":0.9817,"Sa":0.201,"ev":"M6.3 Feb22","k":"broken"},
{"T":1.138,"Sa":0.217,"ev":"M6.3 Feb22","k":"broken"},
{"T":1.371,"Sa":0.201,"ev":"M6.3 Feb22","k":"broken"},
{"T":1.606,"Sa":0.147,"ev":"M6.3 Feb22","k":"broken"},
{"T":1.811,"Sa":0.126,"ev":"M6.3 Feb22","k":"broken"},
{"T":2.122,"Sa":0.107,"ev":"M6.3 Feb22","k":"broken"},
{"T":2.725,"Sa":0.107,"ev":"M6.3 Feb22","k":"broken"},
{"T":3.075,"Sa":0.1025,"ev":"M6.3 Feb22","k":"broken"},
{"T":3.47,"Sa":0.0877,"ev":"M6.3 Feb22","k":"broken"},
{"T":4.06,"Sa":0.0705,"ev":"M6.3 Feb22","k":"broken"},
{"T":4.76,"Sa":0.0516,"ev":"M6.3 Feb22","k":"broken"},
{"T":5.52,"Sa":0.0377,"ev":"M6.3 Feb22","k":"broken"},
{"T":6.46,"Sa":0.0263,"ev":"M6.3 Feb22","k":"broken"},
{"T":7.29,"Sa":0.0215,"ev":"M6.3 Feb22","k":"broken"},
{"T":8.3,"Sa":0.0157,"ev":"M6.3 Feb22","k":"broken"},
{"T":9.37,"Sa":0.0115,"ev":"M6.3 Feb22","k":"broken"},
{"T":10,"Sa":0.0103,"ev":"M6.3 Feb22","k":"broken"},
{"T":0.01,"Sa":0.326,"ev":"475yr Design","k":"solid"},
{"T":0.0129,"Sa":0.336,"ev":"475yr Design","k":"solid"},
{"T":0.017,"Sa":0.347,"ev":"475yr Design","k":"solid"},
{"T":0.0229,"Sa":0.364,"ev":"475yr Design","k":"solid"},
{"T":0.0296,"Sa":0.394,"ev":"475yr Design","k":"solid"},
{"T":0.0381,"Sa":0.432,"ev":"475yr Design","k":"solid"},
{"T":0.0504,"Sa":0.467,"ev":"475yr Design","k":"solid"},
{"T":0.0594,"Sa":0.505,"ev":"475yr Design","k":"solid"},
{"T":0.0703,"Sa":0.537,"ev":"475yr Design","k":"solid"},
{"T":0.0807,"Sa":0.581,"ev":"475yr Design","k":"solid"},
{"T":0.092,"Sa":0.619,"ev":"475yr Design","k":"solid"},
{"T":0.1019,"Sa":0.628,"ev":"475yr Design","k":"solid"},
{"T":0.302,"Sa":0.628,"ev":"475yr Design","k":"solid"},
{"T":0.3162,"Sa":0.619,"ev":"475yr Design","k":"solid"},
{"T":0.3532,"Sa":0.555,"ev":"475yr Design","k":"solid"},
{"T":0.399,"Sa":0.513,"ev":"475yr Design","k":"solid"},
{"T":0.4498,"Sa":0.467,"ev":"475yr Design","k":"solid"},
{"T":0.5129,"Sa":0.426,"ev":"475yr Design","k":"solid"},
{"T":0.578,"Sa":0.387,"ev":"475yr Design","k":"solid"},
{"T":0.6776,"Sa":0.352,"ev":"475yr Design","k":"solid"},
{"T":0.7854,"Sa":0.316,"ev":"475yr Design","k":"solid"},
{"T":0.9204,"Sa":0.283,"ev":"475yr Design","k":"solid"},
{"T":1.077,"Sa":0.246,"ev":"475yr Design","k":"solid"},
{"T":1.297,"Sa":0.21,"ev":"475yr Design","k":"solid"},
{"T":1.562,"Sa":0.18,"ev":"475yr Design","k":"solid"},
{"T":1.811,"Sa":0.154,"ev":"475yr Design","k":"solid"},
{"T":2.2,"Sa":0.126,"ev":"475yr Design","k":"solid"},
{"T":2.625,"Sa":0.1025,"ev":"475yr Design","k":"solid"},
{"T":3.075,"Sa":0.0877,"ev":"475yr Design","k":"solid"},
{"T":3.47,"Sa":0.0705,"ev":"475yr Design","k":"solid"},
{"T":4.06,"Sa":0.0516,"ev":"475yr Design","k":"solid"},
{"T":4.76,"Sa":0.0377,"ev":"475yr Design","k":"solid"},
{"T":5.52,"Sa":0.0276,"ev":"475yr Design","k":"solid"},
{"T":6.46,"Sa":0.0202,"ev":"475yr Design","k":"solid"},
{"T":7.57,"Sa":0.0157,"ev":"475yr Design","k":"solid"},
{"T":8.53,"Sa":0.0115,"ev":"475yr Design","k":"solid"}
]
},
"vconcat": [
{
 "width": 1002, "height": 168,
 "data": {"name": "acc"},
 "layer": [
  {"mark": {"type": "line", "color": "#0000ff", "strokeWidth": 1},
   "encoding": {
    "x": {"field": "t", "type": "quantitative", "scale": {"domain": [0, 40], "nice": false},
          "axis": {"values": [0,5,10,15,20,25,30,35,40], "grid": true, "gridColor": "#444", "gridWidth": 1.5, "labelFontSize": 23, "labelPadding": 8, "title": null}},
    "y": {"field": "b1", "type": "quantitative", "scale": {"domain": [-1, 2.2], "nice": false, "zero": false},
          "axis": {"orient": "left", "values": [-1,-0.5,0,0.5,1], "labelExpr": "datum.value == 1 ? '1.0' : datum.value == 0 ? '0.0' : datum.value == -1 ? '-1.0' : ''", "labelFontSize": 23, "labelPadding": 10, "title": null, "gridColor": "#666", "gridWidth": 1.5}}
   }},
  {"mark": {"type": "line", "color": "#ff0000", "strokeWidth": 1},
   "encoding": {
    "x": {"field": "t", "type": "quantitative", "scale": {"domain": [0, 40], "nice": false}},
    "y": {"field": "r1", "type": "quantitative", "scale": {"domain": [-2.67, 0.5], "nice": false, "zero": false},
          "axis": {"orient": "left", "values": [-0.4,-0.2,0,0.2,0.4], "labelExpr": "datum.value == 0.4 ? '0.4' : datum.value == 0 ? '0.0' : datum.value == -0.4 ? '-0.4' : ''", "labelFontSize": 23, "labelPadding": 10, "title": null, "gridColor": "#222"}}
   }}
 ],
 "resolve": {"scale": {"y": "independent"}, "axis": {"y": "independent"}}
},
{
 "width": 1002, "height": 168,
 "data": {"name": "acc"},
 "layer": [
  {"data": {"values": [{}]},
   "mark": {"type": "rect", "color": "#ffffff"},
   "encoding": {
    "x": {"datum": 25.1, "type": "quantitative", "scale": {"domain": [0, 40], "nice": false}},
    "x2": {"datum": 36.2},
    "y": {"datum": 1.59, "type": "quantitative", "scale": {"domain": [-1, 2.2], "nice": false, "zero": false}, "axis": null},
    "y2": {"datum": 0.64}
   }},
  {"mark": {"type": "line", "color": "#0000ff", "strokeWidth": 1},
   "encoding": {
    "x": {"field": "t", "type": "quantitative", "scale": {"domain": [0, 40], "nice": false},
          "axis": {"values": [0,5,10,15,20,25,30,35,40], "grid": true, "gridColor": "#444", "gridWidth": 1.5, "labelFontSize": 23, "labelPadding": 8, "title": null}},
    "y": {"field": "b2", "type": "quantitative", "scale": {"domain": [-1, 2.2], "nice": false, "zero": false},
          "axis": {"orient": "left", "values": [-1,-0.5,0,0.5,1], "labelExpr": "datum.value == 1 ? '1.0' : datum.value == 0 ? '0.0' : datum.value == -1 ? '-1.0' : ''", "labelFontSize": 23, "labelPadding": 10, "title": "Acceleration, a (g)", "titleFontSize": 21, "titlePadding": 26, "gridColor": "#666", "gridWidth": 1.5}}
   }},
  {"mark": {"type": "line", "color": "#ff0000", "strokeWidth": 1},
   "encoding": {
    "x": {"field": "t", "type": "quantitative", "scale": {"domain": [0, 40], "nice": false}},
    "y": {"field": "r2", "type": "quantitative", "scale": {"domain": [-2.67, 0.5], "nice": false, "zero": false},
          "axis": {"orient": "left", "values": [-0.4,-0.2,0,0.2,0.4], "labelExpr": "datum.value == 0.4 ? '0.4' : datum.value == 0 ? '0.0' : datum.value == -0.4 ? '-0.4' : ''", "labelFontSize": 23, "labelPadding": 10, "title": null, "gridColor": "#222"}}
   }},
  {"data": {"values": [{}]},
   "mark": {"type": "text", "text": "Station:HVSC", "fontSize": 38, "align": "left", "baseline": "middle", "color": "#000"},
   "encoding": {
    "x": {"datum": 25.35, "type": "quantitative", "scale": {"domain": [0, 40], "nice": false}},
    "y": {"datum": 1.11, "type": "quantitative", "scale": {"domain": [-1, 2.2], "nice": false, "zero": false}, "axis": null}
   }}
 ],
 "resolve": {"scale": {"y": "independent"}, "axis": {"y": "independent"}}
},
{
 "width": 1002, "height": 168,
 "data": {"name": "acc"},
 "layer": [
  {"mark": {"type": "line", "strokeWidth": 1},
   "encoding": {
    "x": {"field": "t", "type": "quantitative", "scale": {"domain": [0, 40], "nice": false},
          "axis": {"values": [0,5,10,15,20,25,30,35,40], "grid": true, "gridColor": "#444", "gridWidth": 1.5, "labelFontSize": 23, "labelPadding": 8, "title": "Time, t (s)", "titleFontSize": 24, "titlePadding": 10}},
    "y": {"field": "b3", "type": "quantitative", "scale": {"domain": [-1, 2.2], "nice": false, "zero": false},
          "axis": {"orient": "left", "values": [-1,-0.5,0,0.5,1], "labelExpr": "datum.value == 1 ? '1.0' : datum.value == 0 ? '0.0' : datum.value == -1 ? '-1.0' : ''", "labelFontSize": 23, "labelPadding": 10, "title": null, "gridColor": "#666", "gridWidth": 1.5}},
    "color": {"datum": "M6.3 Feb22", "type": "nominal",
              "scale": {"domain": ["M7.1 Sept4", "M6.3 Feb22"], "range": ["#ff0000", "#0000ff"]},
              "legend": {"orient": "bottom-right", "offset": 11, "title": null, "symbolType": "M-4,0H4", "symbolSize": 576, "symbolStrokeWidth": 1.2, "symbolOffset": 44, "labelOffset": 42, "labelFontSize": 25, "labelLimit": 400, "labelColor": "#000", "fillColor": "#ffffff", "strokeColor": "#000000", "padding": 10, "rowPadding": 10}}
   }},
  {"mark": {"type": "line", "strokeWidth": 1},
   "encoding": {
    "x": {"field": "t", "type": "quantitative", "scale": {"domain": [0, 40], "nice": false}},
    "y": {"field": "r3", "type": "quantitative", "scale": {"domain": [-2.67, 0.5], "nice": false, "zero": false},
          "axis": {"orient": "left", "values": [-0.4,-0.2,0,0.2,0.4], "labelExpr": "datum.value == 0.4 ? '0.4' : datum.value == 0 ? '0.0' : datum.value == -0.4 ? '-0.4' : ''", "labelFontSize": 23, "labelPadding": 10, "title": null, "gridColor": "#222"}},
    "color": {"datum": "M7.1 Sept4", "type": "nominal"}
   }}
 ],
 "resolve": {"scale": {"y": "independent"}, "axis": {"y": "independent"}}
},
{
 "hconcat": [
  {"width": 1, "height": 487, "data": {"values": []}, "mark": "point", "view": {"stroke": null}},
  {
   "width": 744, "height": 487,
   "title": {"text": " ", "fontSize": 20, "offset": 6},
   "layer": [
    {"data": {"values": [{}]},
     "mark": {"type": "rect", "color": "#ffffff"},
     "encoding": {
      "x": {"datum": 1.27, "type": "quantitative", "scale": {"type": "log", "domain": [0.01, 10], "nice": false}},
      "x2": {"datum": 8.95},
      "y": {"datum": 7.1, "type": "quantitative", "scale": {"type": "log", "domain": [0.005, 10], "nice": false}},
      "y2": {"datum": 4.04}
     }},
    {"data": {"values": [{}]},
     "mark": {"type": "rect", "color": "#ffffff"},
     "encoding": {
      "x": {"datum": 0.316, "type": "quantitative"},
      "x2": {"datum": 4.46},
      "y": {"datum": 0.01837, "type": "quantitative"},
      "y2": {"datum": 0.00569}
     }},
    {"data": {"name": "sa"},
     "mark": {"type": "line", "strokeWidth": 5, "clip": true, "strokeCap": "butt"},
     "encoding": {
      "x": {"field": "T", "type": "quantitative", "scale": {"type": "log", "domain": [0.01, 10], "nice": false},
            "axis": {"values": [0.01,0.02,0.03,0.04,0.05,0.06,0.07,0.08,0.09,0.1,0.2,0.3,0.4,0.5,0.6,0.7,0.8,0.9,1,2,3,4,5,6,7,8,9,10],
                     "labelExpr": "datum.value == 0.01 ? '10⁻²' : datum.value == 0.1 ? '10⁻¹' : datum.value == 1 ? '10⁰' : datum.value == 10 ? '10¹' : ''",
                     "grid": true, "labelFontSize": 28, "labelPadding": 10, "title": "Period, T (s)", "titleFontSize": 27, "titlePadding": 4}},
      "y": {"field": "Sa", "type": "quantitative", "scale": {"type": "log", "domain": [0.005, 10], "nice": false},
            "axis": {"values": [0.005,0.006,0.007,0.008,0.009,0.01,0.02,0.03,0.04,0.05,0.06,0.07,0.08,0.09,0.1,0.2,0.3,0.4,0.5,0.6,0.7,0.8,0.9,1,2,3,4,5,6,7,8,9,10],
                     "labelExpr": "datum.value == 0.01 ? '10⁻²' : datum.value == 0.1 ? '10⁻¹' : datum.value == 1 ? '10⁰' : datum.value == 10 ? '10¹' : ''",
                     "grid": true, "labelFontSize": 28, "labelPadding": 10, "title": "Spectral acc, Sa (g)", "titleFontSize": 24, "titlePadding": 13}},
      "color": {"field": "ev", "type": "nominal",
                "scale": {"domain": ["M7.1 Sept4", "M6.3 Feb22", "475yr Design"], "range": ["#ff0000", "#0000ff", "#000000"]},
                "legend": {"orient": "bottom-left", "offset": 10, "title": null, "symbolType": "M-3,0H3", "symbolSize": 576, "symbolStrokeWidth": 6, "symbolOffset": 29, "labelOffset": 32, "labelFontSize": 28, "labelLimit": 400, "labelColor": "#000", "fillColor": "#ffffff", "strokeColor": "#000000", "padding": 8, "rowPadding": 9}},
      "strokeDash": {"field": "k", "type": "nominal", "scale": {"domain": ["solid", "broken"], "range": [[1, 0], [6, 5]]}, "legend": null}
     }},
    {"data": {"values": [{}]},
     "mark": {"type": "text", "text": "Station:HVSC", "fontSize": 29, "align": "right", "baseline": "middle", "color": "#000"},
     "encoding": {
      "x": {"datum": 8.4, "type": "quantitative"},
      "y": {"datum": 5.35, "type": "quantitative"}
     }},
    {"data": {"values": [{}]},
     "mark": {"type": "text", "text": "Solid line: GM horiz", "fontSize": 28, "align": "right", "baseline": "middle", "color": "#000"},
     "encoding": {
      "x": {"datum": 4.26, "type": "quantitative"},
      "y": {"datum": 0.01282, "type": "quantitative"}
     }},
    {"data": {"values": [{}]},
     "mark": {"type": "text", "text": "Broken line: Vert", "fontSize": 28, "align": "right", "baseline": "middle", "color": "#000"},
     "encoding": {
      "x": {"datum": 4.26, "type": "quantitative"},
      "y": {"datum": 0.00778, "type": "quantitative"}
     }}
   ]
  }
 ],
 "spacing": 8,
 "bounds": "flush",
 "resolve": {"scale": {"color": "independent", "strokeDash": "independent"}, "legend": {"color": "independent", "strokeDash": "independent"}}
}
]
}
